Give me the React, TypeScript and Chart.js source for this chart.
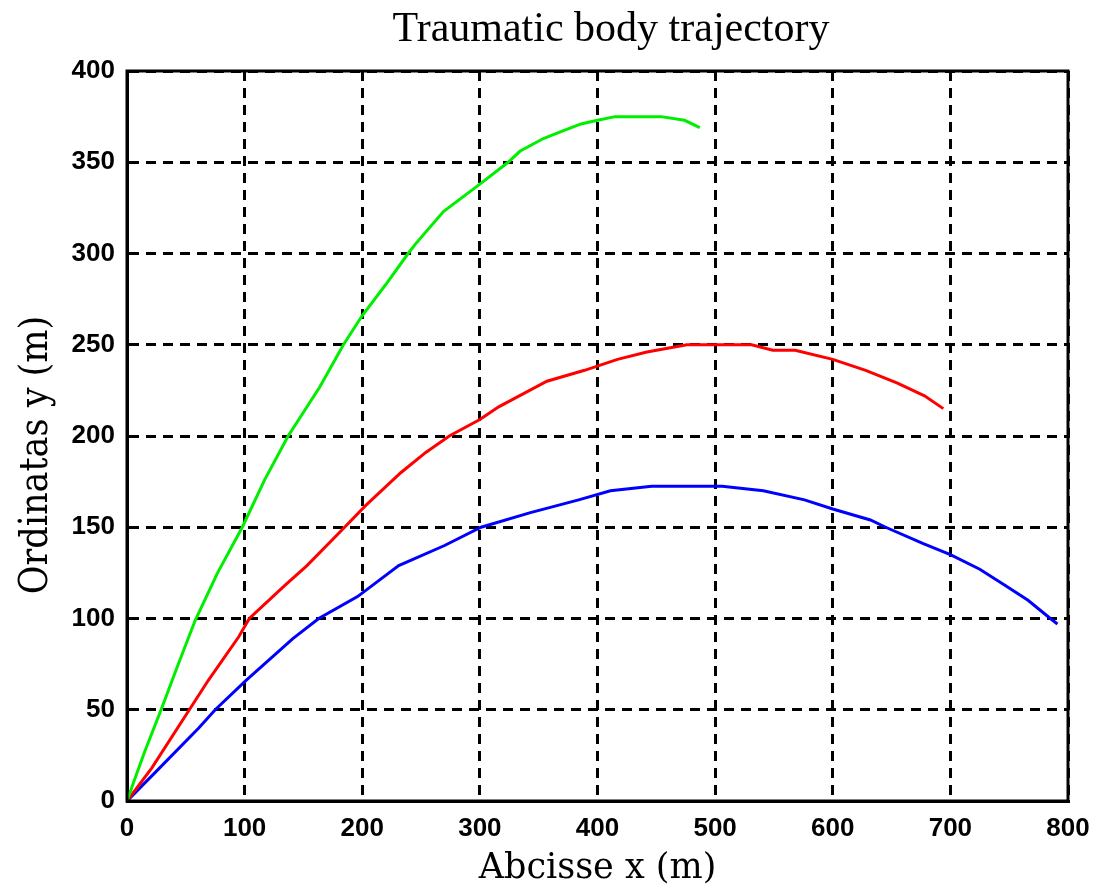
import React, { useEffect, useRef } from "react";
import { Chart, registerables } from "chart.js";

Chart.register(...registerables);

const titleText = "Traumatic body trajectory";
const xTitle = "Abcisse x (m)";
const yTitle = "Ordinatas y (m)";

const greenX = [0, 6, 15, 29, 43, 58, 77, 98, 117, 137, 164, 184, 200, 220, 239, 245, 269, 300, 324, 334, 354, 370, 386, 400, 415, 454, 474, 487];
const greenY = [0, 11, 27, 50, 74, 99, 125, 150, 176, 200, 227, 250, 266, 283, 300, 305, 323, 338, 350, 356, 363, 367, 371, 373, 375, 375, 373, 369];

const redX = [0, 21, 53, 69, 95, 104, 134, 153, 185, 203, 233, 254, 274, 300, 316, 357, 389, 417, 442, 476, 531, 549, 568, 600, 628, 655, 678, 694];
const redY = [0, 18, 50, 66, 90, 100, 118, 129, 150, 162, 180, 191, 200, 209, 216, 230, 236, 242, 246, 250, 250, 247, 247, 242, 236, 229, 222, 215];

const blueX = [0, 23, 61, 75, 101, 141, 163, 196, 231, 270, 301, 343, 384, 411, 446, 506, 541, 576, 600, 632, 645, 677, 700, 725, 747, 766, 785, 791];
const blueY = [0, 15, 40, 50, 66, 89, 100, 112, 129, 140, 150, 158, 165, 170, 172.5, 172.5, 170, 165, 160, 154, 150, 141, 135, 127, 118, 110, 100, 97];

const xMin = 0, xMax = 800, xStep = 100;
const yMin = 0, yMax = 400, yStep = 50;

const zip = (xs: number[], ys: number[]) => xs.map((x, i) => ({ x, y: ys[i] }));

export default function App() {
  const ref = useRef<HTMLCanvasElement | null>(null);
  useEffect(() => {
    if (!ref.current) return;
    const framePlugin = {
      id: "frameAndTitle",
      afterDatasetsDraw(chart: any) {
        const { ctx, chartArea } = chart;
        ctx.save();
        ctx.strokeStyle = "#000";
        ctx.lineWidth = 3;
        ctx.setLineDash([]);
        ctx.strokeRect(chartArea.left, chartArea.top, chartArea.right - chartArea.left, chartArea.bottom - chartArea.top);
        ctx.restore();
      },
      afterDraw(chart: any) {
        const { ctx } = chart;
        ctx.save();
        ctx.fillStyle = "#000";
        ctx.font = "42px 'Liberation Serif'";
        ctx.textAlign = "center";
        ctx.textBaseline = "middle";
        ctx.fillText(titleText, 611, 30);
        ctx.font = "39px 'DejaVu Serif Condensed', 'DejaVu Serif'";
        ctx.translate(37, 455);
        ctx.rotate(-Math.PI / 2);
        ctx.fillText(yTitle, 0, 0);
        ctx.restore();
      },
    };
    const chart = new Chart(ref.current, {
      type: "line",
      data: {
        datasets: [
          { data: zip(greenX, greenY), borderColor: "#00ee00", borderWidth: 3, pointRadius: 0, fill: false },
          { data: zip(redX, redY), borderColor: "#ff0000", borderWidth: 3, pointRadius: 0, fill: false },
          { data: zip(blueX, blueY), borderColor: "#0000ff", borderWidth: 3, pointRadius: 0, fill: false },
        ],
      },
      options: {
        animation: false,
        responsive: false,
        devicePixelRatio: 1,
        layout: { padding: { top: 71, right: 26, left: 0, bottom: 0 } },
        plugins: { legend: { display: false }, tooltip: { enabled: false }, title: { display: false } },
        scales: {
          x: {
            type: "linear",
            min: xMin,
            max: xMax,
            afterFit: (s: any) => { s.height = 89; s.paddingRight = 26; s.paddingLeft = 0; },
            ticks: { stepSize: xStep, padding: 12, color: "#000", font: { family: "'Liberation Sans'", size: 26, weight: "bold" }, maxRotation: 0 },
            grid: { color: "#000", lineWidth: 3, drawTicks: false },
            border: { display: true, color: "#000", width: 3, dash: [10, 7] },
            title: { display: true, text: xTitle, color: "#000", font: { family: "'DejaVu Serif'", size: 35 }, padding: { top: 0, bottom: 0 } },
          },
          y: {
            type: "linear",
            min: yMin,
            max: yMax,
            afterFit: (s: any) => { s.width = 127; },
            ticks: { stepSize: yStep, padding: 12, color: "#000", font: { family: "'Liberation Sans'", size: 26, weight: "bold" } },
            grid: { color: "#000", lineWidth: 3, drawTicks: false },
            border: { display: true, color: "#000", width: 3, dash: [10, 7] },
            title: { display: false, text: yTitle },
          },
        },
      },
      plugins: [framePlugin],
    });
    return () => chart.destroy();
  }, []);
  return (
    <div style={{ position: "absolute", left: 0, top: 0, width: 1094, height: 890, background: "#fff" }}>
      <canvas ref={ref} width={1094} height={890} style={{ width: 1094, height: 890 }} />
    </div>
  );
}
